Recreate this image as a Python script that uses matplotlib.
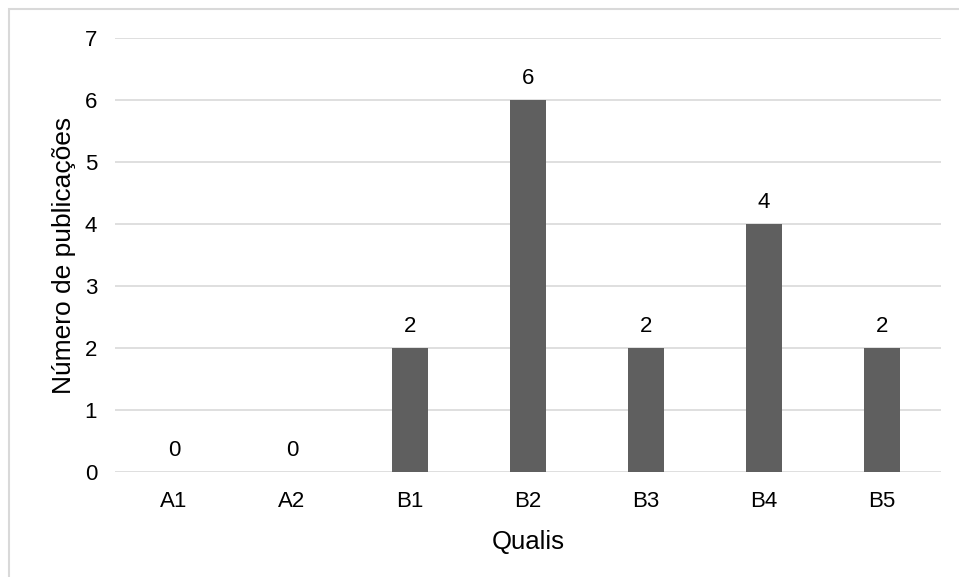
import matplotlib
matplotlib.use('Agg')
import matplotlib.pyplot as plt
from matplotlib.patches import Rectangle

categories = ['A1', 'A2', 'B1', 'B2', 'B3', 'B4', 'B5']
counts = [0, 0, 2, 6, 2, 4, 2]

plt.rcParams['font.family'] = ['Liberation Sans', 'DejaVu Sans']

fig = plt.figure(figsize=(9.59, 5.77), dpi=100)
ax = fig.add_axes([0.120, 0.182, 0.861, 0.752])

x = range(len(categories))
bars = ax.bar(x, counts, width=0.31, color='#5f5f5f', zorder=3)
ax.bar_label(bars, padding=8, fontsize=16, color='#000000')

ax.set_xlim(-0.5, len(categories) - 0.5)
ax.set_ylim(0, 7)
ax.set_yticks(range(0, 8))
ax.set_xticks(list(x))
ax.set_xticklabels(categories)
ax.grid(axis='y', color='#d9d9d9', linewidth=1.2, zorder=0)
for s in ax.spines.values():
    s.set_visible(False)
ax.tick_params(length=0, labelsize=16, colors='#000000')
ax.tick_params(axis='y', pad=13)
ax.tick_params(axis='x', pad=14)

ax.set_xlabel('Qualis', fontsize=18.5, labelpad=13)
ax.set_ylabel('Número de publicações', fontsize=19, labelpad=6)

# chart border (only left/top visible in the crop)
fig.patches.append(Rectangle((9 / 959, -0.1), 1.2, (577 - 9) / 577 + 0.1,
                             transform=fig.transFigure, fill=False,
                             edgecolor='#d9d9d9', linewidth=1.5))

fig.savefig('out.png', dpi=100, facecolor='white')
